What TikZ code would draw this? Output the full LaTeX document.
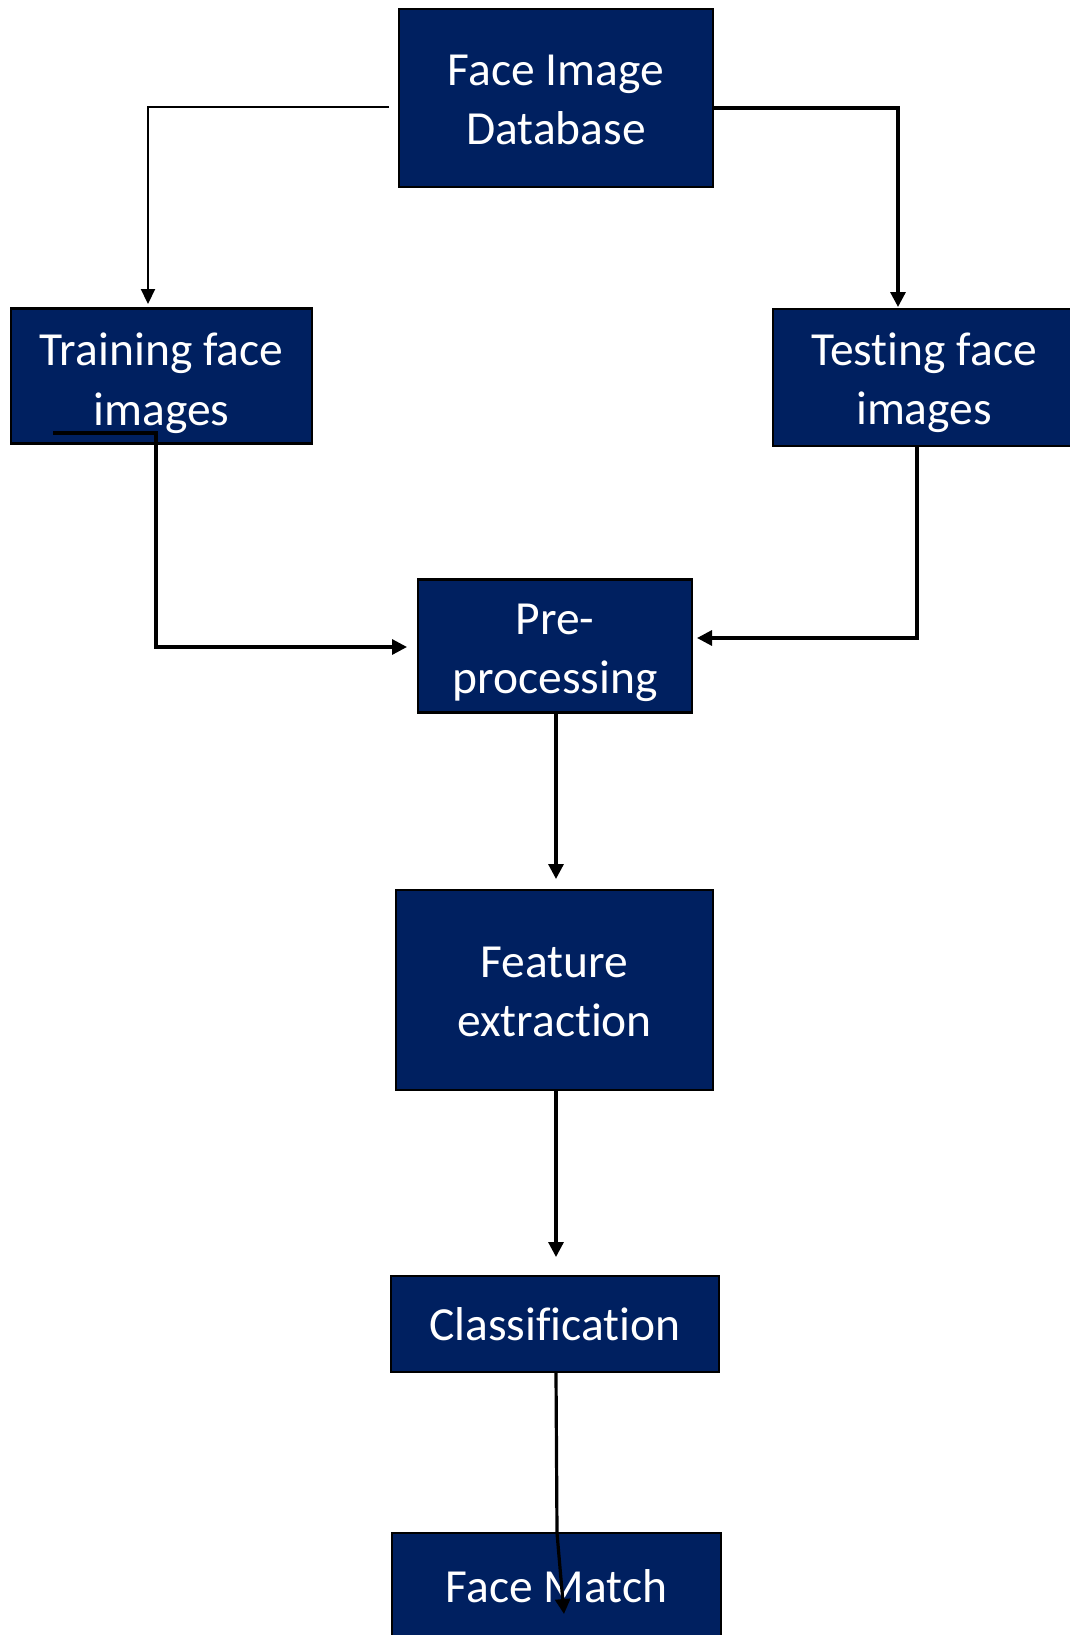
\documentclass[tikz,border=0pt]{standalone}
\usepackage{fontspec}
\setmainfont{Carlito}[Ligatures=NoCommon,RawFeature={-liga}]
\usetikzlibrary{arrows.meta}
\definecolor{navy}{HTML}{002060}
\begin{document}
\begin{tikzpicture}[x=1pt,y=-1pt,
  box/.style={draw=black,line width=2.2pt,fill=navy,inner sep=0pt},
  txt/.style={text=white,inner sep=0pt,align=center,font=\fontsize{47.5}{59.5}\selectfont},
  conn/.style={draw=black,line width=3.2pt,-{Triangle[length=15pt,width=15pt]}},
  thinconn/.style={draw=black,line width=2.2pt,-{Triangle[length=15pt,width=14pt]}}]
\useasboundingbox (0,0) rectangle (1070,1635);
\begin{scope}
\clip (0,0) rectangle (1070,1635);
\node[box,minimum width=314pt,minimum height=178pt] (db) at (556,98) {};
\node[box,minimum width=301pt,minimum height=135pt] (tr) at (161.5,376) {};
\node[box,minimum width=302pt,minimum height=137pt] (te) at (924,377.5) {};
\node[box,minimum width=274pt,minimum height=133pt] (pre) at (555,646) {};
\node[box,minimum width=317pt,minimum height=200pt] (fe) at (554.5,990) {};
\node[box,minimum width=328pt,minimum height=96pt] (cl) at (555,1324) {};
\node[box,minimum width=329pt,minimum height=112pt] (fm) at (556.5,1589) {};
\end{scope}
\node[txt] (dbt) at ([yshift=-2pt]db.center) {Face Image\\Database};
\node[txt] (trt) at ([yshift=-7pt]tr.center) {Training face\\images};
\node[txt] (tet) at ([yshift=-5pt]te.center) {Testing face\\images};
\node[txt] (pret) at ([yshift=-7pt]pre.center) {Pre-\\processing};
\node[txt] (fet) at ([yshift=-2pt]fe.center) {Feature\\extraction};
\node[txt] (clt) at (cl.center) {Classification};
\node[txt] (fmt) at ([yshift=3pt]fm.center) {Face Match};
% named connector points
\coordinate (dbl) at (389,107);
\coordinate (trs) at (53,433);
\coordinate (tes) at (917,445);
% Database -> Training
\draw[thinconn] (dbl) -- (148,107) -- (148,304);
% Database -> Testing
\draw[conn] (db.east |- 0,108) -- (898,108) -- (898,307);
% Training -> Pre-processing
\draw[conn] (trs) -- (156,433) -- (156,647) -- (407,647);
% Testing -> Pre-processing
\draw[conn] (tes) -- (917,638) -- (697,638);
% Pre-processing -> Feature extraction
\draw[conn] (pre.south -| 556,0) -- (556,879);
% Feature extraction -> Classification
\draw[conn] (fe.south -| 556,0) -- (556,1257);
% Classification -> Face Match
\draw[conn] (cl.south -| 556,0) -- (557,1533) -- (564,1614);
\end{tikzpicture}
\end{document}
